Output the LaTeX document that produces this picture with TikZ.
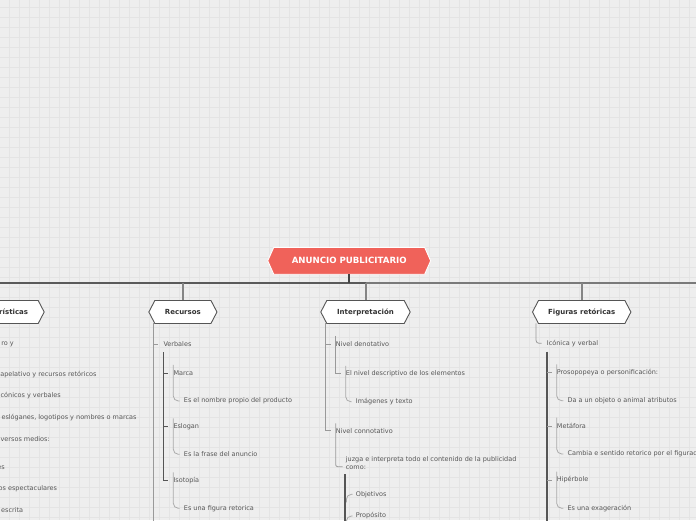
\documentclass[tikz,border=0pt]{standalone}
\usepackage{fontspec}
\setmainfont{DejaVu Sans}
\usetikzlibrary{calc}
\definecolor{bgc}{HTML}{EEEEEE}
\definecolor{gridc}{HTML}{E4E4E4}
\definecolor{rootc}{HTML}{F0625A}
\definecolor{txtc}{HTML}{575757}
\definecolor{boldc}{HTML}{333333}
\definecolor{busL}{HTML}{5A5A5A}
\definecolor{busR}{HTML}{7A7A7A}
\definecolor{stubc}{HTML}{858585}
\definecolor{trunkc}{HTML}{9A9A9A}
\definecolor{darkc}{HTML}{555555}
\definecolor{leafc}{HTML}{AAAAAA}
\newcommand\hexframe[3]{% name, fill, draw
  \filldraw[fill=#2,draw=#3,line width=0.9pt,line join=miter]
    (#1.north west) -- (#1.north east) -- ([xshift=6pt]#1.east) -- (#1.south east)
    -- (#1.south west) -- ([xshift=-6pt]#1.west) -- cycle;}
\begin{document}
\begin{tikzpicture}[x=1pt,y=-1pt,
  leaf/.style={anchor=west,inner sep=0pt,font=\fontsize{6.5}{8.3}\selectfont,text=txtc},
  hexbody/.style={inner sep=0pt,minimum height=22.6pt,font=\fontsize{7}{8}\selectfont\bfseries,text=boldc},
  bus/.style={line width=2pt},
  stub/.style={draw=stubc,line width=2pt},
  trunk/.style={draw=trunkc,line width=1pt},
  sub/.style={draw=darkc,line width=1.1pt},
  thick/.style={draw=darkc,line width=2pt},
  curve/.style={draw=leafc,line width=0.8pt,rounded corners=5pt}]
\useasboundingbox (0,0) rectangle (696,520);
\clip (0,0) rectangle (696,520);
\fill[bgc] (0,0) rectangle (696,520);
\foreach \x in {9.5,19.5,...,695.5} \draw[gridc,line width=0.6pt] (\x,0) -- (\x,520);
\foreach \y in {7.5,17.5,...,519.5} \draw[gridc,line width=0.6pt] (0,\y) -- (696,\y);

% ---------- bus ----------
\coordinate (busW) at (0,283);
\coordinate (busM) at (366,283);
\coordinate (busE) at (696,283);
\draw[bus,busL] (busW) -- (busM);
\draw[bus,busR] (busM) -- (busE);

% ---------- root ----------
\node[inner sep=0pt,minimum width=150.5pt,minimum height=26.5pt] (root) at (349.2,260.8) {};
\hexframe{root}{rootc}{white}
\node[font=\fontsize{8.6}{10}\selectfont\bfseries,text=white] (roottxt) at (root.center) {ANUNCIO PUBLICITARIO};
\draw[line width=2pt,draw=darkc!80!black] (root.south) -- (root.south |- busW);

% ---------- main branches ----------
\node[hexbody,minimum width=79pt] (carac) at (-1.5,312) {};
\node[hexbody,minimum width=55.7pt] (recur) at (182.9,312) {};
\node[hexbody,minimum width=77pt] (inter) at (365.5,312) {};
\node[hexbody,minimum width=86pt] (figur) at (581.7,312) {};
\draw[stub] (recur.north |- busW) -- (recur.north);
\draw[stub] (inter.north |- busW) -- (inter.north);
\draw[stub] (figur.north |- busW) -- (figur.north);
\hexframe{carac}{white}{darkc}
\hexframe{recur}{white}{darkc}
\hexframe{inter}{white}{darkc}
\hexframe{figur}{white}{darkc}
\node[hexbody] (caract) at (carac.center) {Características};
\node[hexbody] (recurt) at (recur.center) {Recursos};
\node[hexbody] (intert) at (inter.center) {Interpretación};
\node[hexbody] (figurt) at (figur.center) {Figuras retóricas};

% ---------- Características (cut off on the left) ----------
\node[leaf,anchor=east] (c1) at (14,344.3) {ro y};
\node[leaf,anchor=east] (c2) at (96.7,374.3) {apelativo y recursos retóricos};
\node[leaf,anchor=east] (c3) at (61,395.3) {icónicos y verbales};
\node[leaf,anchor=east] (c4) at (136.7,417.7) {eslóganes, logotipos y nombres o marcas};
\node[leaf,anchor=east] (c5) at (50,438.7) {versos medios:};
\node[leaf,anchor=east] (c6) at (5,467.7) {es};
\node[leaf,anchor=east] (c7) at (57.3,488.7) {os espectaculares};
\node[leaf,anchor=east] (c8) at (23.3,510.3) {escrita};

% ---------- Recursos ----------
\coordinate (recT) at (153.3,323.3);
\coordinate (recB) at (153.3,525);
\node[leaf] (verb) at (163.3,344.3) {Verbales};
\node[leaf] (marca) at (173.3,373.3) {Marca};
\node[leaf] (marcaL) at (183.7,401) {Es el nombre propio del producto};
\node[leaf] (eslo) at (173.3,426.7) {Eslogan};
\node[leaf] (esloL) at (183.7,454.3) {Es la frase del anuncio};
\node[leaf] (isot) at (173.3,480.7) {Isotopía};
\node[leaf] (isotL) at (183.7,508.3) {Es una figura retorica};
\draw[trunk] (recT) -- (recB);
\draw[trunk] (recT |- verb.west) -- ([xshift=-5pt]verb.west);
\coordinate (verT) at (163.3,352);
\draw[sub] (verT) |- ([xshift=-5pt]isot.west);
\draw[sub] (verT |- marca.west) -- ([xshift=-5pt]marca.west);
\draw[sub] (verT |- eslo.west) -- ([xshift=-5pt]eslo.west);
\draw[curve] ([yshift=8.4pt]marca.west) |- ([xshift=-4pt]marcaL.west);
\draw[curve] ([yshift=8.4pt]eslo.west) |- ([xshift=-4pt]esloL.west);
\draw[curve] ([yshift=8.4pt]isot.west) |- ([xshift=-4pt]isotL.west);

% ---------- Interpretación ----------
\coordinate (intT) at (325,323.3);
\node[leaf] (deno) at (335.7,344.3) {Nivel denotativo};
\node[leaf] (desc) at (345.7,373.3) {El nivel descriptivo de los elementos};
\node[leaf] (imag) at (355.7,401.7) {Imágenes y texto};
\node[leaf] (conno) at (335.7,430.7) {Nivel connotativo};
\node[leaf,align=left] (juzga) at (345.7,463.2) {juzga e interpreta todo el contenido de la publicidad\\como:};
\node[leaf] (obje) at (355.7,494.3) {Objetivos};
\node[leaf] (prop) at (355.7,516) {Propósito};
\draw[trunk] (intT) |- ([xshift=-5pt]conno.west);
\draw[trunk] (intT |- deno.west) -- ([xshift=-5pt]deno.west);
\draw[trunk] ([yshift=8.4pt]deno.west) |- ([xshift=-5pt]desc.west);
\draw[curve] ([yshift=7.4pt]desc.west) |- ([xshift=-4pt]imag.west);
\draw[curve,rounded corners=2pt,draw=trunkc] ([yshift=7.3pt]conno.west) |- ([xshift=-3pt,yshift=-3.5pt]juzga.west);
\coordinate (juzT) at (345.4,474.3);
\coordinate (juzB) at (345.4,525);
\draw[thick] (juzT) -- (juzB);
\draw[curve] ([xshift=1pt,yshift=-8pt]juzT |- obje.west) |- ([xshift=-3pt]obje.west);
\draw[curve] ([xshift=1pt,yshift=-8pt]juzT |- prop.west) |- ([xshift=-3pt]prop.west);

% ---------- Figuras retóricas ----------
\coordinate (figT) at (536,323.3);
\node[leaf] (icon) at (546.7,343.3) {Icónica y verbal};
\node[leaf] (proso) at (556.7,372.7) {Prosopopeya o personificación:};
\node[leaf] (prosoL) at (567.3,400.7) {Da a un objeto o animal atributos};
\node[leaf] (meta) at (556.7,426) {Metáfora};
\node[leaf] (metaL) at (567.3,454) {Cambia e sentido retorico por el figurado};
\node[leaf] (hipe) at (556.7,480) {Hipérbole};
\node[leaf] (hipeL) at (567.3,508.3) {Es una exageración};
\draw[curve,draw=trunkc,rounded corners=3pt] (figT) |- ([xshift=-5pt]icon.west);
\coordinate (icoT) at (547.3,351.7);
\coordinate (icoB) at (547.3,525);
\draw[thick] (icoT) -- (icoB);
\draw[trunk] (icoT |- proso.west) -- ([xshift=-5pt]proso.west);
\draw[trunk] (icoT |- meta.west) -- ([xshift=-5pt]meta.west);
\draw[trunk] (icoT |- hipe.west) -- ([xshift=-5pt]hipe.west);
\draw[curve] ([yshift=8.4pt]proso.west) |- ([xshift=-4pt]prosoL.west);
\draw[curve] ([yshift=8.4pt]meta.west) |- ([xshift=-4pt]metaL.west);
\draw[curve] ([yshift=8.4pt]hipe.west) |- ([xshift=-4pt]hipeL.west);
\end{tikzpicture}
\end{document}
